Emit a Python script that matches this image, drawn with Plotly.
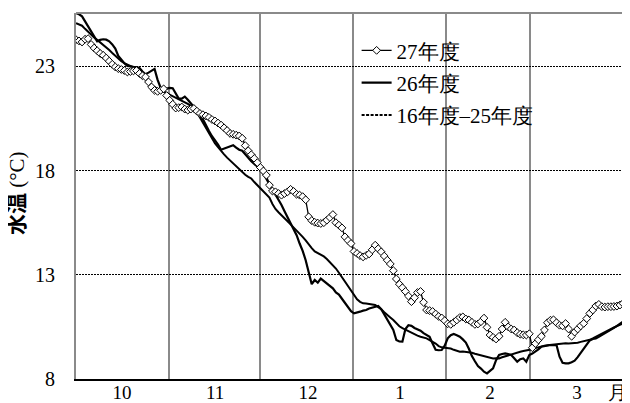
import plotly.graph_objects as go

# day index from Oct 1 (0) to Mar 31 (181)
days = list(range(182))

month_labels = ["10", "11", "12", "1", "2", "3", "月"]
month_label_pos = [15.2, 46.0, 76.8, 107.2, 137.0, 165.8, 179.2]
month_bounds = [30.9, 60.8, 91.6, 122.3, 150.2]

y_ticks = [8, 13, 18, 23]
y_title = "<span style=\"font-family:'Noto Sans CJK JP';font-weight:bold\">水温</span> (°C)"

s27 = [
    24.28, 24.22, 24.17, 24.30, 24.33, 24.05, 23.88, 23.75, 23.62, 23.53,
    23.40, 23.25, 23.10, 22.97, 22.89, 22.85, 22.80, 22.73, 22.75, 22.78,
    22.80, 22.66, 22.55, 22.49, 22.25, 22.01, 21.85, 21.80, 21.85, 21.92,
    21.60, 21.37, 21.18, 21.00, 21.02, 21.05, 20.95, 20.90, 20.95, 20.98,
    20.85, 20.74, 20.68, 20.62, 20.55, 20.45, 20.38, 20.28, 20.18, 20.05,
    19.92, 19.78, 19.74, 19.70, 19.66, 19.55, 19.20, 18.95, 18.76, 18.58,
    18.38, 18.15, 17.98, 17.78, 17.30, 17.02, 16.98, 16.90, 16.82, 16.90,
    16.98, 17.10, 17.00, 16.86, 16.82, 16.75, 16.60, 15.78, 15.60, 15.52,
    15.48, 15.46, 15.50, 15.62, 15.75, 15.89, 15.50, 15.38, 15.25, 14.82,
    14.65, 14.50, 14.12, 14.02, 13.92, 13.86, 13.93, 14.00, 14.20, 14.42,
    14.25, 14.10, 13.90, 13.70, 13.52, 13.20, 12.80, 12.55, 12.38, 12.20,
    11.98, 11.71, 11.90, 12.15, 12.20, 11.68, 11.31, 11.28, 11.24, 11.12,
    11.00, 10.93, 10.80, 10.65, 10.62, 10.72, 10.83, 10.95, 10.98, 10.88,
    10.83, 10.72, 10.62, 10.64, 10.75, 10.92, 10.48, 10.11, 10.00, 9.92,
    10.05, 10.40, 10.72, 10.50, 10.40, 10.35, 10.22, 10.15, 10.12, 10.11,
    10.17, 9.50, 9.70, 9.88, 10.05, 10.35, 10.70, 10.82, 10.84, 10.70,
    10.58, 10.55, 10.66, 10.40, 10.05, 10.25, 10.40, 10.55, 10.67, 10.90,
    11.15, 11.31, 11.50, 11.58, 11.47, 11.45, 11.47, 11.47, 11.48, 11.50,
    11.55, 11.63,
]

s26 = [
    25.55, 25.50, 25.40, 25.15, 24.90, 24.70, 24.45, 24.20, 24.27, 24.30,
    24.28, 24.20, 24.05, 23.85, 23.50, 23.30, 23.15, 23.02, 22.99, 22.98,
    22.97, 22.92, 22.75, 22.62, 22.70, 22.80, 22.88, 22.35, 21.98, 21.90,
    21.92, 21.97, 21.95, 21.70, 21.45, 21.45, 21.55, 21.40, 21.22, 21.05,
    20.88, 20.74, 20.45, 20.15, 19.90, 19.65, 19.46, 19.25, 19.00, 19.05,
    19.12, 19.18, 19.22, 19.10, 19.00, 18.95, 18.78, 18.60, 18.45, 18.32,
    18.20, 18.05, 17.85, 17.60, 17.35, 17.10, 16.88, 16.66, 16.35, 16.05,
    15.75, 15.48, 15.20, 14.90, 14.50, 14.15, 13.70, 13.10, 12.55, 12.75,
    12.62, 12.82, 12.70, 12.59, 12.45, 12.35, 12.15, 12.05, 11.85, 11.65,
    11.45, 11.25, 11.15, 11.18, 11.23, 11.28, 11.31, 11.38, 11.42, 11.47,
    11.50, 11.35, 11.10, 10.85, 10.60, 10.35, 9.87, 9.80, 9.79, 10.40,
    10.58, 10.55, 10.45, 10.38, 10.32, 10.20, 10.10, 10.03, 9.70, 9.40,
    9.38, 9.39, 9.60, 9.95, 10.10, 10.16, 10.10, 10.03, 9.90, 9.75,
    9.45, 9.10, 8.85, 8.62, 8.50, 8.35, 8.27, 8.40, 8.51, 8.90,
    9.15, 9.20, 9.23, 9.20, 9.15, 9.00, 8.83, 8.95, 8.99, 8.83,
    9.15, 9.22, 9.31, 9.42, 9.55, 9.58, 9.62, 9.63, 9.63, 9.63,
    9.07, 8.78, 8.75, 8.75, 8.80, 8.88, 9.05, 9.25, 9.45, 9.70,
    9.85, 9.92, 9.95, 10.02, 10.10, 10.18, 10.25, 10.35, 10.45, 10.55,
    10.65, 10.75,
]

s_avg = [
    25.07, 25.02, 24.95, 24.80, 24.65, 24.48, 24.38, 24.27, 24.15, 24.05,
    23.92, 23.78, 23.64, 23.50, 23.36, 23.25, 23.15, 23.07, 23.00, 22.95,
    22.88, 22.80, 22.62, 22.45, 22.30, 22.12, 22.00, 21.90, 21.84, 21.79,
    21.72, 21.64, 21.58, 21.50, 21.44, 21.36, 21.29, 21.20, 21.10, 21.00,
    20.80, 20.55, 20.30, 20.02, 19.75, 19.52, 19.30, 19.12, 18.92, 18.78,
    18.62, 18.48, 18.33, 18.18, 18.03, 17.90, 17.80, 17.70, 17.62, 17.45,
    17.30, 17.15, 17.02, 16.88, 16.70, 16.40, 16.16, 16.00, 15.87, 15.72,
    15.57, 15.42, 15.28, 15.12, 14.98, 14.82, 14.65, 14.45, 14.28, 14.12,
    14.04, 13.97, 13.88, 13.76, 13.62, 13.48, 13.30, 13.10, 12.88, 12.65,
    12.42, 12.22, 12.00, 11.82, 11.70, 11.63, 11.62, 11.60, 11.58, 11.55,
    11.45, 11.35, 11.20, 11.05, 10.95, 10.83, 10.68, 10.53, 10.44, 10.37,
    10.28, 10.20, 10.13, 10.08, 10.03, 9.99, 9.95, 9.87, 9.80, 9.70,
    9.58, 9.52, 9.50, 9.48, 9.46, 9.40, 9.34, 9.31, 9.32, 9.30,
    9.31, 9.26, 9.21, 9.17, 9.12, 9.07, 9.03, 8.99, 8.98, 9.00,
    8.99, 9.04, 9.09, 9.14, 9.19, 9.24, 9.29, 9.31, 9.34, 9.36,
    9.39, 9.43, 9.48, 9.53, 9.57, 9.60, 9.62, 9.64, 9.66, 9.68,
    9.70, 9.71, 9.72, 9.70, 9.71, 9.72, 9.74, 9.78, 9.81, 9.84,
    9.88, 9.95, 10.03, 10.11, 10.18, 10.25, 10.33, 10.40, 10.47, 10.54,
    10.60, 10.67,
]

FONT = "Liberation Serif"

fig = go.Figure()

fig.add_trace(go.Scatter(
    x=days, y=s_avg, mode="lines", name="16年度–25年度",
    line=dict(color="black", width=2), showlegend=False,
))
fig.add_trace(go.Scatter(
    x=days, y=s26, mode="lines", name="26年度",
    line=dict(color="black", width=2.2), legendrank=2, legendgroup="b",
))
fig.add_trace(go.Scatter(
    x=days, y=s27, mode="lines+markers", name="27年度",
    line=dict(color="black", width=1.3),
    marker=dict(symbol="diamond", size=6, color="white",
                line=dict(color="black", width=1)),
    legendrank=1, legendgroup="a",
))
# legend entry for the 10-year average (dashed sample as in the reference)
fig.add_trace(go.Scatter(
    x=[None], y=[None], mode="lines", name="16年度–25年度",
    line=dict(color="black", width=2, dash="3px,1.5px"),
    legendrank=3, legendgroup="c",
))

# the page body adds an 8px margin, so the figure is sized/offset to compensate
fig.update_layout(
    width=622, height=395,
    margin=dict(l=68, r=7, t=5, b=24),
    paper_bgcolor="white", plot_bgcolor="white",
    font=dict(family=FONT, size=18, color="black"),
    showlegend=True,
    legend=dict(
        x=0.513, y=0.953, xanchor="left", yanchor="top",
        bgcolor="rgba(0,0,0,0)", borderwidth=0,
        font=dict(family=FONT, size=21, color="black"),
        tracegroupgap=2, traceorder="grouped",
    ),
    xaxis=dict(
        range=[0, 181], automargin=False,
        tickmode="array", tickvals=month_label_pos, ticktext=month_labels,
        ticks="", ticklabelstandoff=-5,
        showgrid=False, zeroline=False,
        showline=True, linecolor="black", linewidth=2,
        tickfont=dict(family=FONT, size=19),
        minor=dict(tickmode="array", tickvals=month_bounds, showgrid=True,
                   gridcolor="#8a8a8a", gridwidth=1.5, ticks=""),
    ),
    yaxis=dict(
        range=[8, 25.56], automargin=False,
        tickmode="array", tickvals=y_ticks,
        ticks="outside", ticklen=15, tickcolor="rgba(0,0,0,0)",
        showgrid=True, gridcolor="black", gridwidth=1.2, griddash="2px,1px",
        zeroline=False,
        showline=True, linecolor="#8a8a8a", linewidth=2, mirror=True,
        tickfont=dict(family=FONT, size=20),
    ),
    annotations=[dict(
        text=y_title, textangle=-90, showarrow=False,
        xref="paper", yref="paper", x=-0.1115, y=0.508,
        xanchor="center", yanchor="middle",
        font=dict(family=FONT, size=21, color="black"),
    )],
    shapes=[dict(type="line", xref="paper", yref="paper", x0=0, x1=1, y0=1, y1=1,
                 line=dict(color="#8a8a8a", width=2))],
)

fig.write_html("out.html")
